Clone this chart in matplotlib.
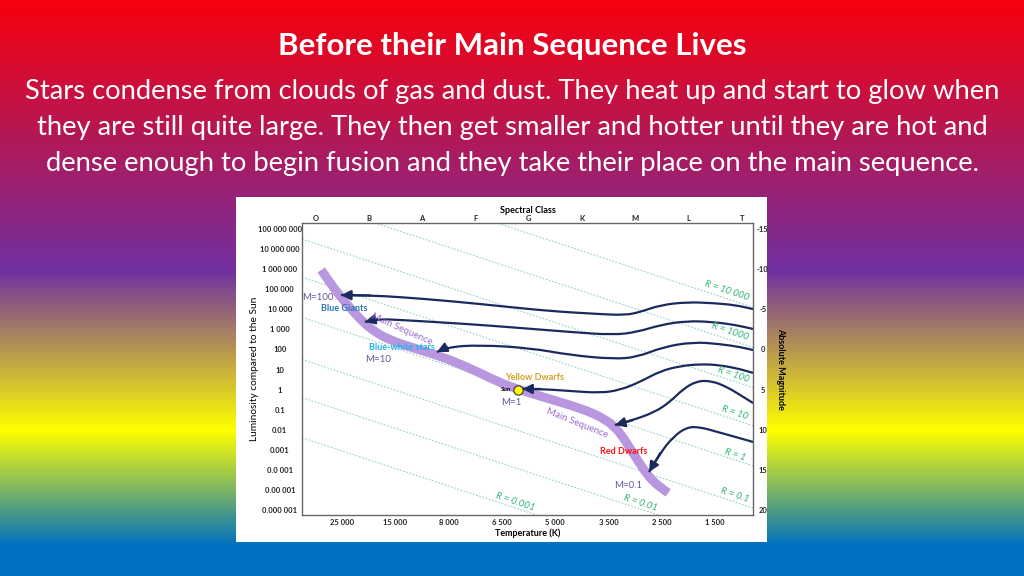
import numpy as np
import matplotlib
matplotlib.use("Agg")
import matplotlib.pyplot as plt
from matplotlib.path import Path
from matplotlib.patches import PathPatch, Rectangle

plt.rcParams['font.family'] = ['Lato', 'DejaVu Sans']

# Slide text
title = "Before their Main Sequence Lives"
body = ["Stars condense from clouds of gas and dust. They heat up and start to glow when",
        "they are still quite large. They then get smaller and hotter until they are hot and",
        "dense enough to begin fusion and they take their place on the main sequence."]

# Axes labels / ticks (x = temperature column, y = log10 luminosity)
temp_labels = ['25 000', '15 000', '8 000', '6 500', '5 000', '3 500', '2 500', '1 500']
temp_pos = [1, 2, 3, 4, 5, 6, 7, 8]
spec_labels = ['O', 'B', 'A', 'F', 'G', 'K', 'M', 'L', 'T']
spec_pos = [0.5, 1.5, 2.5, 3.5, 4.5, 5.5, 6.5, 7.5, 8.5]
lum_labels = ['100 000 000', '10 000 000', '1 000 000', '100 000', '10 000', '1 000', '100',
              '10', '1', '0.1', '0.01', '0.001', '0.0 001', '0.00 001', '0.000 001']
lum_pos = list(range(8, -7, -1))
mag_labels = ['-15', '-10', '-5', '0', '5', '10', '15', '20']
mag_pos = [8, 6, 4, 2, 0, -2, -4, -6]

# Lines of constant radius: log L at left and right edges of the plot
radius_names = ['10 000', '1000', '100', '10', '1', '0.1', '0.01', '0.001']
r_left = [11.5, 9.5, 7.5, 5.6, 3.6, 1.5, -0.4, -2.4]
r_right = [4.1, 2.1, 0.1, -1.8, -3.8, -5.9, -7.8, -9.8]
r_label_x = [8.22, 8.28, 8.34, 8.37, 8.37, 8.37, 6.59, 4.25]
r_label_y = [4.91, 2.87, 0.73, -1.17, -3.26, -5.25, -5.65, -5.60]

# Main sequence
ms_x = [0.61, 0.78, 0.96, 1.19, 1.39, 1.62, 1.90, 2.28, 2.84, 3.40, 3.97, 4.34,
        4.90, 5.52, 5.90, 6.12, 6.27, 6.46, 6.65, 6.84, 7.12]
ms_y = [5.96, 5.31, 4.66, 3.96, 3.37, 2.87, 2.47, 2.12, 1.67, 1.07, 0.33, -0.02,
        -0.47, -0.97, -1.42, -1.87, -2.36, -3.16, -3.96, -4.61, -5.15]

# Pre-main-sequence tracks (first point = arrow tip on the main sequence)
tracks = [
    ([0.98, 1.53, 2.09, 3.03, 3.97, 4.90, 5.84, 6.31, 6.59, 6.97, 7.47, 7.96, 8.38, 8.71],
     [4.71, 4.69, 4.61, 4.41, 4.16, 3.91, 3.76, 3.71, 3.86, 4.21, 4.36, 4.31, 4.21, 4.01]),
    ([1.43, 1.66, 2.09, 3.35, 4.34, 5.28, 6.09, 6.54, 6.97, 7.47, 7.96, 8.38, 8.71],
     [3.37, 3.52, 3.47, 3.27, 3.07, 2.87, 2.72, 2.87, 3.22, 3.42, 3.37, 3.22, 3.02]),
    ([2.78, 2.97, 3.59, 4.53, 5.28, 6.09, 6.54, 7.02, 7.59, 8.09, 8.47, 8.71],
     [1.87, 2.12, 2.22, 2.07, 1.72, 1.52, 1.62, 2.12, 2.37, 2.27, 2.12, 1.97]),
    ([4.38, 4.72, 5.28, 5.84, 6.22, 6.59, 6.97, 7.34, 7.72, 8.09, 8.47, 8.71],
     [0.03, 0.03, -0.07, -0.17, -0.02, 0.38, 0.92, 1.17, 1.27, 1.22, 1.02, 0.83]),
    ([6.12, 6.46, 6.87, 7.15, 7.40, 7.66, 7.94, 8.22, 8.47, 8.71],
     [-1.77, -1.52, -1.12, -0.62, 0.03, 0.43, 0.43, 0.13, -0.27, -0.67]),
    ([6.76, 6.97, 7.21, 7.47, 7.72, 8.04, 8.38, 8.71],
     [-4.11, -3.16, -2.36, -1.87, -1.87, -2.11, -2.36, -2.61]),
]

sun_x, sun_y = 4.30, -0.02

navy = '#1B2A5C'
green = '#33B576'


def smooth(xs, ys):
    pts = np.column_stack([xs, ys])
    verts = [pts[0]]
    codes = [Path.MOVETO]
    for i in range(1, len(pts) - 1):
        verts += [pts[i], (pts[i] + pts[i + 1]) / 2]
        codes += [Path.CURVE3, Path.CURVE3]
    verts.append(pts[-1])
    codes.append(Path.LINETO)
    return Path(verts, codes)


fig = plt.figure(figsize=(10.24, 5.76), dpi=100)

# gradient background
bg = fig.add_axes([0, 0, 1, 1], zorder=0)
stops_y = [0, 270, 430, 545, 576]
stops_c = np.array([[248, 0, 12], [112, 48, 160], [255, 255, 0], [0, 112, 192], [0, 112, 192]]) / 255
yy = np.arange(576)
grad = np.stack([np.interp(yy, stops_y, stops_c[:, k]) for k in range(3)], axis=1)
bg.imshow(grad[:, None, :], aspect='auto', extent=[0, 1024, 576, 0])
bg.add_patch(Rectangle((236, 197), 531, 345, facecolor='white', edgecolor='none'))
bg.set_xlim(0, 1024)
bg.set_ylim(576, 0)
bg.axis('off')

fig.text(0.5, 1 - 46 / 576, title, ha='center', va='center', color='white',
         fontsize=22.5, fontweight='bold')
for i, line in enumerate(body):
    fig.text(0.5, 1 - (91 + 36 * i) / 576, line, ha='center', va='center',
             color='white', fontsize=19.7)

# main chart
ax = fig.add_axes([302 / 1024, 1 - 515 / 576, 451 / 1024, 292 / 576], zorder=1)
ax.set_facecolor('white')
ax.set_xlim(0.25, 8.71)
ax.set_ylim(-6.25, 8.30)

for s in ax.spines.values():
    s.set_color('#666666')
    s.set_linewidth(1.0)

ax.set_xticks(temp_pos, temp_labels)
ax.set_yticks(lum_pos, lum_labels)
ax.tick_params(length=0, labelsize=5.5, colors='#222222')
ax.tick_params(axis='x', pad=3)
ax.tick_params(axis='y', pad=16)
for lab in ax.get_yticklabels():
    lab.set_ha('center')
    lab.set_fontweight('bold')
for lab in ax.get_xticklabels():
    lab.set_fontweight('bold')
ax.set_xlabel('Temperature (K)', fontsize=6.5, fontweight='bold', labelpad=2)
ax.set_ylabel('Luminosity compared to the Sun', fontsize=7.3, labelpad=-1)

axr = ax.twinx()
axr.set_ylim(ax.get_ylim())
axr.set_yticks(mag_pos, mag_labels)
axr.tick_params(length=0, labelsize=5.5, pad=7, colors='#222222')
for lab in axr.get_yticklabels():
    lab.set_ha('center')
    lab.set_fontweight('bold')
axr.set_ylabel('Absolute Magnitude', fontsize=6.5, fontweight='bold', rotation=-90, labelpad=12)
for s in axr.spines.values():
    s.set_visible(False)

axt = ax.twiny()
axt.set_xlim(ax.get_xlim())
axt.set_xticks(spec_pos, spec_labels)
axt.tick_params(length=0, labelsize=5.5, pad=0.5, colors='#222222')
for lab in axt.get_xticklabels():
    lab.set_fontweight('bold')
axt.set_xlabel('Spectral Class', fontsize=6.5, fontweight='bold', labelpad=2)
for s in axt.spines.values():
    s.set_visible(False)

# radius lines
xl = ax.get_xlim()
for name, yl, yr, lx, ly in zip(radius_names, r_left, r_right, r_label_x, r_label_y):
    ax.plot(xl, [yl, yr], color='#95D3C2', lw=0.8, ls=(0, (1.5, 1.5)), zorder=1)
    ax.text(lx, ly, 'R = ' + name, color=green, fontsize=7, style='italic',
            rotation=-18, ha='center', va='center', zorder=5)

# main sequence band
ax.add_patch(PathPatch(smooth(ms_x, ms_y), facecolor='none', edgecolor='#B896E0',
                       lw=6.5, capstyle='butt', joinstyle='round', zorder=2))

# tracks
for tx, ty in tracks:
    ax.add_patch(PathPatch(smooth(tx, ty), facecolor='none', edgecolor=navy,
                           lw=1.6, zorder=3))
    ax.annotate('', xy=(tx[0], ty[0]), xytext=(tx[1], ty[1]),
                arrowprops=dict(arrowstyle='-|>,head_length=0.45,head_width=0.22',
                                color=navy, lw=1.6, mutation_scale=13,
                                shrinkA=0, shrinkB=0), zorder=4)

ax.scatter([sun_x], [sun_y], s=45, color='#FFFF00', edgecolor='#333333', lw=0.8, zorder=5)

mcol = '#66559A'
ax.text(0.55, 4.61, 'M=100', color=mcol, fontsize=7, ha='center', va='center', zorder=6)
ax.text(1.04, 4.06, 'Blue Giants', color='#2E75B6', fontsize=6.5, fontweight='bold',
        ha='center', va='center', zorder=6)
ax.text(2.13, 3.02, 'Main Sequence', color='#9B6BD0', fontsize=7, rotation=-24,
        ha='center', va='center', zorder=6)
ax.text(2.13, 2.12, 'Blue-white stars', color='#1FB5EA', fontsize=6.5, fontweight='bold',
        ha='center', va='center', zorder=6)
ax.text(1.68, 1.52, 'M=10', color=mcol, fontsize=7, ha='center', va='center', zorder=6)
ax.text(4.62, 0.58, 'Yellow Dwarfs', color='#D4A020', fontsize=6.5, fontweight='bold',
        ha='center', va='center', zorder=6)
ax.text(4.08, -0.02, 'Sun', color='black', fontsize=4.5, fontweight='bold',
        ha='center', va='center', zorder=6)
ax.text(4.17, -0.62, 'M=1', color=mcol, fontsize=7, ha='center', va='center', zorder=6)
ax.text(5.41, -1.67, 'Main Sequence', color='#9B6BD0', fontsize=7, rotation=-22,
        ha='center', va='center', zorder=6)
ax.text(6.29, -3.11, 'Red Dwarfs', color='#FF1010', fontsize=6.5, fontweight='bold',
        ha='center', va='center', zorder=6)
ax.text(6.37, -4.76, 'M=0.1', color=mcol, fontsize=7, ha='center', va='center', zorder=6)

fig.savefig('out.png', dpi=100)
